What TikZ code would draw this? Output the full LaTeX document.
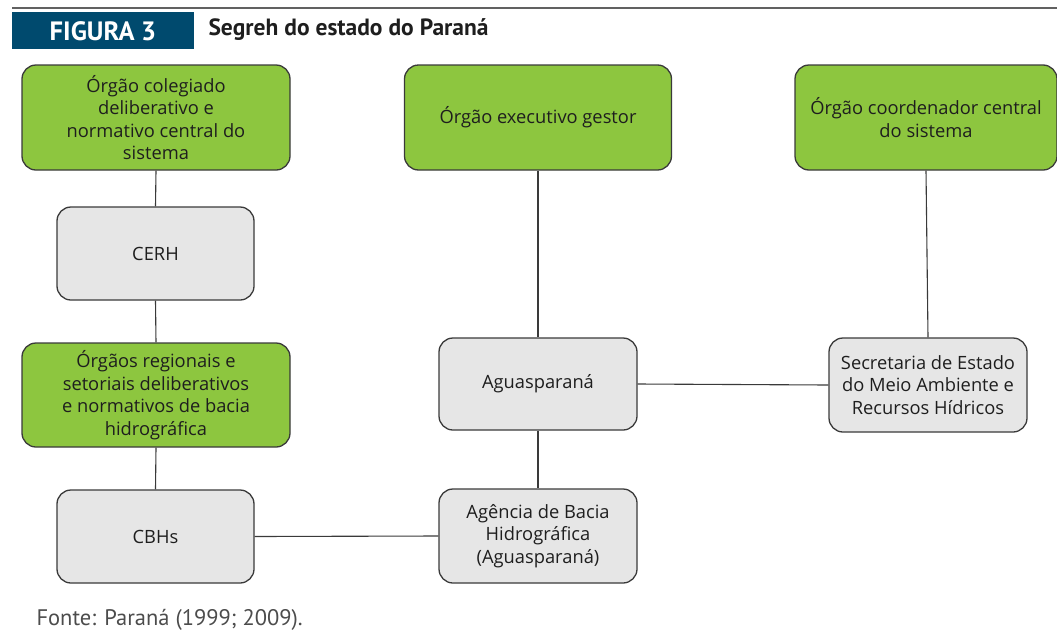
\documentclass[tikz,border=0pt]{standalone}
\usepackage{fontspec}
\setmainfont{Open Sans}
\newfontfamily\ptsans{PT Sans}
\definecolor{figblue}{HTML}{004A6E}
\definecolor{boxgreen}{HTML}{8DC63F}
\definecolor{boxgray}{HTML}{E6E6E6}
\definecolor{edgec}{HTML}{3A3A3A}
\definecolor{txt}{HTML}{1E1E1E}
\begin{document}
\begin{tikzpicture}[x=1pt,y=-1pt,
  base/.style={draw=edgec, line width=1.3pt, rounded corners=14pt, align=center,
    text=txt, font=\fontsize{18.3}{22.5}\selectfont, inner sep=0pt},
  greenbox/.style={base, fill=boxgreen},
  graybox/.style={base, fill=boxgray},
  link/.style={draw=edgec, line width=1.1pt}]
\useasboundingbox (0,0) rectangle (1057,635);
% header
\draw[line width=2.2pt, draw=edgec!80] (12,8) -- (1057,8);
\fill[figblue] (12,12) rectangle (194,49);
\node[text=white, font=\ptsans\bfseries\fontsize{26.5}{28}\selectfont] (fig) at (103,31) {FIGURA 3};
\node[anchor=west, text=txt, font=\ptsans\bfseries\fontsize{23.5}{26}\selectfont] (title) at (205,30) {Segreh do estado do Paraná};
% boxes
\node[greenbox, minimum width=268pt, minimum height=105pt] (a) at (156,117.5)
  {Órgão colegiado\\deliberativo e\\normativo central do\\sistema};
\node[greenbox, minimum width=267pt, minimum height=105pt] (b) at (538,117.5)
  {Órgão executivo gestor};
\node[greenbox, minimum width=262pt, minimum height=105pt] (c) at (926,117.5)
  {Órgão coordenador central\\do sistema};
\node[graybox, minimum width=197pt, minimum height=93pt] (cerh) at (155.5,253.5) {CERH};
\node[greenbox, minimum width=268pt, minimum height=104pt] (d) at (156,395)
  {Órgãos regionais e\\setoriais deliberativos\\e normativos de bacia\\hidrográfica};
\node[graybox, minimum width=198pt, minimum height=92pt] (agua) at (538,384) {Aguasparaná};
\node[graybox, minimum width=198pt, minimum height=94pt] (sec) at (928,385)
  {Secretaria de Estado\\do Meio Ambiente e\\Recursos Hídricos};
\node[graybox, minimum width=197pt, minimum height=93pt] (cbh) at (155.5,536.5) {CBHs};
\node[graybox, minimum width=198pt, minimum height=94pt] (agen) at (538,536)
  {Agência de Bacia\\Hidrográfica\\(Aguasparaná)};
% connectors
\draw[link] (a.south) -- (cerh.north);
\draw[link] (cerh.south) -- (d.north);
\draw[link] (d.south) -- (cbh.north);
\draw[link] (b.south) -- (agua.north);
\draw[link] (c.south) -- (sec.north);
\draw[link] (agua.east) -- (sec.west);
\draw[link] (agua.south) -- (agen.north);
\draw[link] (cbh.east) -- (agen.west);
% source
\node[anchor=west, text=black!70, font=\ptsans\fontsize{22.5}{24}\selectfont] (src) at (33,620) {Fonte: Paraná (1999; 2009).};
\end{tikzpicture}
\end{document}
